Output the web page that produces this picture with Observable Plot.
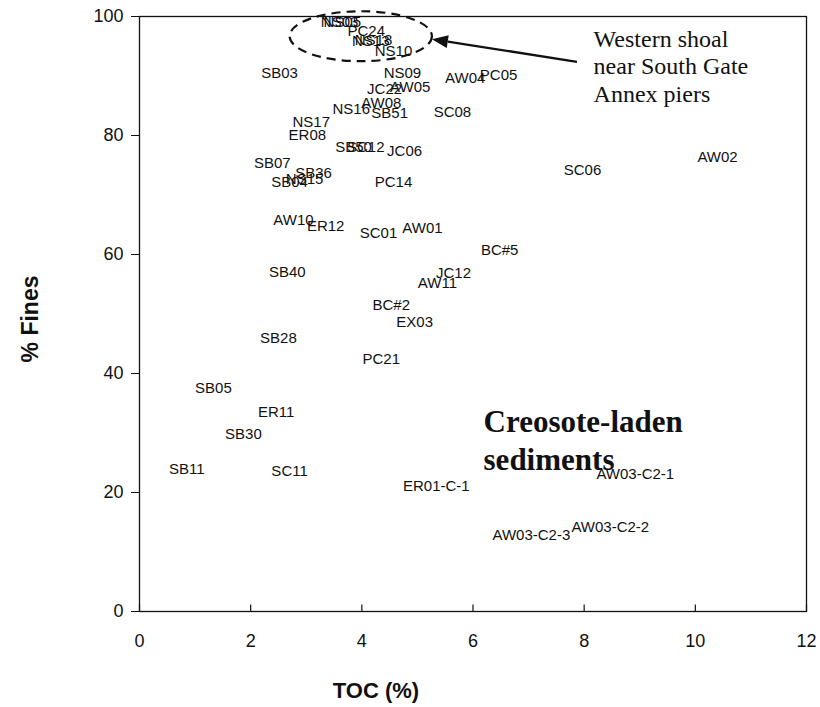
<!DOCTYPE html>
<html><head><meta charset="utf-8">
<script src="https://cdn.jsdelivr.net/npm/d3@7"></script>
<script src="https://cdn.jsdelivr.net/npm/@observablehq/plot@0.6"></script>
<style>body{margin:0;background:#fff}</style>
</head><body><div id="chart"></div>
<script>
const labels = ["NS03","NS05","PC24","NS13","NS18","NS10","SB03","NS09","PC05","AW04","AW05","JC22","AW08","NS16","SB51","SC08","NS17","ER08","SB50","SC12","JC06","SB07","SB36","NS15","SB04","PC14","SC06","AW02","AW10","ER12","SC01","AW01","BC#5","JC12","AW11","SB40","BC#2","EX03","SB28","PC21","SB05","ER11","SB30","SB11","SC11","ER01-C-1","AW03-C2-1","AW03-C2-3","AW03-C2-2"];
const toc = [3.60,3.65,4.08,4.16,4.21,4.57,2.52,4.73,6.46,5.86,4.87,4.41,4.35,3.81,4.50,5.63,3.09,3.02,3.85,4.07,4.77,2.39,3.13,2.97,2.70,4.57,7.97,10.40,2.77,3.35,4.30,5.09,6.48,5.65,5.36,2.66,4.53,4.95,2.50,4.35,1.33,2.46,1.87,0.85,2.70,5.34,8.92,7.05,8.47];
const fines = [99.0,99.0,97.5,95.8,96.1,94.1,90.4,90.4,90.2,89.7,88.2,87.7,85.4,84.5,83.8,84.0,82.2,80.0,78.1,78.0,77.3,75.3,73.6,72.7,72.2,72.1,74.2,76.3,65.7,64.8,63.5,64.5,60.8,56.9,55.2,57.1,51.4,48.7,46.0,42.4,37.5,33.5,29.8,23.9,23.6,21.0,23.0,12.8,14.1];
const xTicks = [0,2,4,6,8,10,12];
const yTicks = [0,20,40,60,80,100];
const shoalNote = ["Western shoal","near South Gate","Annex piers"];
const creosoteNote = ["Creosote-laden","sediments"];

const data = labels.map((l,i)=>({label:l, toc:toc[i], fines:fines[i]}));

// annotation shapes in data units
const ellipse = {cx: 3.99, cy: 96.6, rx: 1.28, ry: 4.2};
const arrow = {x1: 7.88, y1: 92.3, x2: 5.27, y2: 96.1};

function ellipseMark(index, scales) {
  const cx = scales.x(ellipse.cx), cy = scales.y(ellipse.cy);
  const rx = Math.abs(scales.x(ellipse.cx + ellipse.rx) - cx);
  const ry = Math.abs(scales.y(ellipse.cy + ellipse.ry) - cy);
  return d3.create("svg:ellipse")
    .attr("cx", cx).attr("cy", cy).attr("rx", rx).attr("ry", ry)
    .attr("fill", "none").attr("stroke", "#111").attr("stroke-width", 2.2)
    .attr("stroke-dasharray", "9,6").node();
}
function arrowMark(index, scales) {
  const x1 = scales.x(arrow.x1), y1 = scales.y(arrow.y1);
  const x2 = scales.x(arrow.x2), y2 = scales.y(arrow.y2);
  const a = Math.atan2(y2 - y1, x2 - x1);
  const L = 16, W = 6.5;
  const bx = x2 - L*Math.cos(a), by = y2 - L*Math.sin(a);
  const g = d3.create("svg:g");
  g.append("line").attr("x1", x1).attr("y1", y1).attr("x2", bx).attr("y2", by)
    .attr("stroke", "#111").attr("stroke-width", 2.4);
  g.append("path").attr("d", `M${x2},${y2}L${bx - W*Math.sin(a)},${by + W*Math.cos(a)}L${bx + W*Math.sin(a)},${by - W*Math.cos(a)}Z`)
    .attr("fill", "#111");
  return g.node();
}

const chart = Plot.plot({
  width: 820, height: 707,
  marginLeft: 139, marginRight: 14, marginTop: 16, marginBottom: 96,
  style: {fontFamily: "'Liberation Sans', Arial, sans-serif", background: "#fff", color: "#111"},
  x: {domain: [0, 12]},
  y: {domain: [0, 100]},
  marks: [
    Plot.frame({stroke: "#111", strokeWidth: 1.3}),
    Plot.axisY({ticks: yTicks, tickSize: 8, tickPadding: 8, fontSize: 18, label: null, stroke: "#111"}),
    Plot.axisX({ticks: xTicks, tickSize: 0, tickPadding: 23, fontSize: 18, label: null}),
    Plot.ruleX(xTicks, {x: d => d, y1: 0, y2: 1.1, stroke: "#111", strokeWidth: 1.2}),
    Plot.text(["TOC (%)"], {frameAnchor: "bottom", dx: -97, dy: 86, fontSize: 22, fontWeight: "bold", fill: "#111"}),
    Plot.text(["% Fines"], {frameAnchor: "left", textAnchor: "middle", dx: -109, dy: 5, rotate: -90, fontSize: 23, fontWeight: "bold", fill: "#111"}),
    Plot.text(data, {x: "toc", y: "fines", text: "label", fontSize: 15, fill: "#111"}),
    ellipseMark,
    arrowMark,
    Plot.text(shoalNote, {x: 8.17, y: (d, i) => [96.1, 91.6, 86.9][i], text: d => d, textAnchor: "start", fontSize: 24, fontFamily: "'Liberation Serif', 'Times New Roman', serif", fill: "#111"}),
    Plot.text(creosoteNote, {x: 6.19, y: (d, i) => [31.8, 25.5][i], text: d => d, textAnchor: "start", fontSize: 31, fontWeight: "bold", fontFamily: "'Liberation Serif', 'Times New Roman', serif", fill: "#111"})
  ]
});
document.getElementById("chart").append(chart);
</script>
</body></html>
